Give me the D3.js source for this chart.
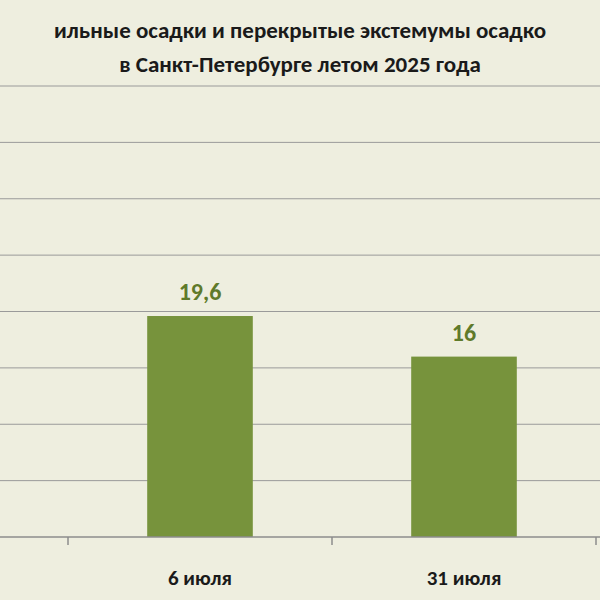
<!DOCTYPE html>
<html><head><meta charset="utf-8">
<script src="https://cdn.jsdelivr.net/npm/d3@7"></script>
<style>body{margin:0;background:#eeeedf}</style>
</head><body>
<div class="chart"></div>
<script>
var categories = ['6 июля', '31 июля'];
var values = [19.6, 16];
var valueLabels = ['19,6', '16'];
var gridTicks = [5, 10, 15, 20, 25, 30, 35, 40];
var titleLines = ['ильные осадки и перекрытые экстемумы осадко', 'в Санкт-Петербурге летом 2025 года'];

var width = 600, height = 600;
var svg = d3.select('.chart').append('svg')
	.attr('width', width).attr('height', height)
	.style('font-family', 'Calibri, Carlito, "Open Sans", sans-serif');

svg.append('rect').attr('width', width).attr('height', height).attr('fill', '#eeeedf');

var x = d3.scaleBand().domain(categories).range([68, 596]).paddingInner(0.6).paddingOuter(0.3);
var y = d3.scaleLinear().domain([0, 40]).range([537, 86]);

// grid
svg.append('g').selectAll('line').data(gridTicks).enter().append('line')
	.attr('x1', 0).attr('x2', width)
	.attr('y1', function(d) { return y(d); }).attr('y2', function(d) { return y(d); })
	.attr('stroke', '#9a9a9a').attr('stroke-width', 1);

// bars
svg.append('g').selectAll('rect').data(values).enter().append('rect')
	.attr('x', function(d, i) { return x(categories[i]); })
	.attr('width', x.bandwidth())
	.attr('y', function(d) { return y(d); })
	.attr('height', function(d) { return y(0) - y(d); })
	.attr('fill', '#77933c');

svg.append('g').selectAll('text').data(values).enter().append('text')
	.attr('x', function(d, i) { return x(categories[i]) + x.bandwidth() / 2; })
	.attr('y', function(d) { return y(d) - 16; })
	.attr('text-anchor', 'middle')
	.attr('font-size', 24).attr('font-weight', 'bold').attr('fill', '#5f7a2a')
	.text(function(d, i) { return valueLabels[i]; });

// axis
svg.append('line').attr('x1', 0).attr('x2', width).attr('y1', y(0)).attr('y2', y(0))
	.attr('stroke', '#8c8c8c').attr('stroke-width', 1.5);
var step = x.step();
var bounds = [68, 68 + step, 68 + 2 * step];
svg.append('g').selectAll('line').data(bounds).enter().append('line')
	.attr('x1', function(d) { return d; }).attr('x2', function(d) { return d; })
	.attr('y1', y(0)).attr('y2', y(0) + 8)
	.attr('stroke', '#8c8c8c').attr('stroke-width', 1.5);

svg.append('g').selectAll('text').data(categories).enter().append('text')
	.attr('x', function(d) { return x(d) + x.bandwidth() / 2; })
	.attr('y', 585)
	.attr('text-anchor', 'middle')
	.attr('font-size', 21).attr('font-weight', 'bold').attr('fill', '#1a1a1a')
	.text(function(d) { return d; });

// title
svg.append('g').selectAll('text').data(titleLines).enter().append('text')
	.attr('x', 300).attr('y', function(d, i) { return 38 + i * 34; })
	.attr('text-anchor', 'middle')
	.attr('font-size', 23).attr('font-weight', 'bold').attr('fill', '#1a1a1a')
	.text(function(d) { return d; });
</script>
</body></html>
